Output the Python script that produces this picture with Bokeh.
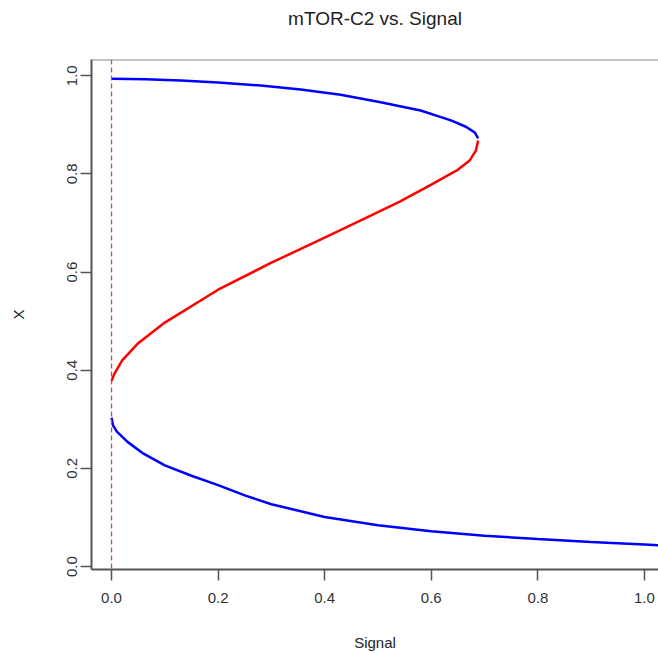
from bokeh.plotting import figure
from bokeh.models import Range1d, Span, FixedTicker, Title, NumeralTickFormatter
from bokeh.embed import file_html
from bokeh.resources import INLINE

# Upper stable branch (blue)
upper_signal = [0.000, 0.064, 0.13, 0.20, 0.28, 0.355, 0.43, 0.505, 0.58, 0.637, 0.665, 0.682, 0.688]
upper_x = [0.994, 0.993, 0.990, 0.986, 0.980, 0.972, 0.961, 0.946, 0.929, 0.909, 0.896, 0.884, 0.872]

# Middle unstable branch (red)
mid_signal = [0.688, 0.684, 0.672, 0.648, 0.60, 0.54, 0.50, 0.40, 0.30, 0.20, 0.10, 0.05, 0.02, 0.005, 0.000]
mid_x = [0.868, 0.848, 0.827, 0.807, 0.778, 0.743, 0.722, 0.670, 0.619, 0.564, 0.497, 0.455, 0.420, 0.392, 0.378]

# Lower stable branch (blue)
low_signal = [0.000, 0.003, 0.01, 0.03, 0.06, 0.10, 0.15, 0.20, 0.25, 0.30, 0.40, 0.50, 0.60, 0.70, 0.80, 0.90, 1.00, 1.03]
low_x = [0.303, 0.287, 0.275, 0.254, 0.230, 0.206, 0.185, 0.166, 0.145, 0.127, 0.101, 0.084, 0.072, 0.063, 0.056, 0.050, 0.045, 0.043]

ticks = [0.0, 0.2, 0.4, 0.6, 0.8, 1.0]
title_text = "mTOR-C2 vs. Signal"

FONT = "Liberation Sans"

p = figure(width=658, height=653, output_backend="svg", toolbar_location=None,
           x_range=Range1d(-0.0376, 1.0265), y_range=Range1d(-0.006, 1.033),
           min_border_left=91, min_border_right=0, min_border_top=59, min_border_bottom=84,
           background_fill_color="white", border_fill_color="white")

p.title.text = ""
# invisible spacer title between frame and the real title
p.add_layout(Title(text=" ", text_font=FONT, text_font_size="10px", standoff=18,
                   text_color="white"), "above")
p.add_layout(Title(text=title_text, align="center", text_font=FONT,
                   text_font_size="19px", text_font_style="normal", text_color="#222222",
                   standoff=0), "above")

p.grid.visible = False
p.outline_line_color = None

for ax in (p.xaxis[0], p.yaxis[0]):
    ax.ticker = FixedTicker(ticks=ticks)
    ax.formatter = NumeralTickFormatter(format="0.0")
    ax.axis_line_color = "#555555"
    ax.axis_line_width = 2
    ax.major_tick_line_color = "#555555"
    ax.major_tick_line_width = 1.5
    ax.major_tick_out = 11
    ax.major_tick_in = 0
    ax.minor_tick_line_color = None
    ax.major_label_text_font = FONT
    ax.major_label_text_font_size = "15px"
    ax.major_label_text_color = "#333333"
    ax.axis_label_text_font = FONT
    ax.axis_label_text_font_size = "15px"
    ax.axis_label_text_font_style = "normal"
    ax.axis_label_text_color = "#222222"

p.xaxis.axis_label = "Signal"
p.xaxis.major_label_standoff = 12
p.xaxis.axis_label_standoff = 28
p.yaxis.axis_label = "X"
p.yaxis.major_label_orientation = "vertical"
p.yaxis.major_label_standoff = 3
p.yaxis.axis_label_standoff = 38

# top box line
p.add_layout(Span(location=1.033, dimension="width", line_color="#888888", line_width=2))

# dashed vertical line at Signal = 0
p.add_layout(Span(location=0, dimension="height", line_color="#d04848",
                  line_width=1.3, line_dash="5 3"))

p.line(upper_signal, upper_x, line_color="#0000ff", line_width=2.5)
p.line(mid_signal, mid_x, line_color="#ff0000", line_width=2.5)
p.line(low_signal, low_x, line_color="#0000ff", line_width=2.5)

open("out.html", "w").write(file_html(p, INLINE))
